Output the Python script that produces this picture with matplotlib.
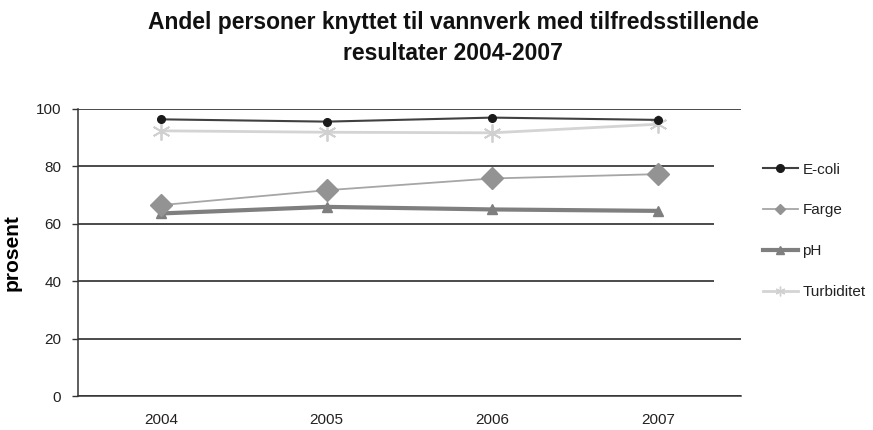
import matplotlib
matplotlib.use("Agg")
import matplotlib.pyplot as plt
from matplotlib.lines import Line2D
from matplotlib.patches import Rectangle

plt.rcParams['font.family'] = ['Liberation Sans', 'DejaVu Sans']

years = ["2004", "2005", "2006", "2007"]
ecoli = [96.4, 95.6, 97.0, 96.2]
farge = [66.5, 71.7, 75.8, 77.3]
ph = [63.6, 65.9, 65.0, 64.5]
turbiditet = [92.4, 91.9, 91.7, 94.7]
yticks = [0, 20, 40, 60, 80, 100]

W, H = 873, 430
fig = plt.figure(figsize=(W / 100, H / 100), dpi=100)
ax = fig.add_axes([78 / W, 1 - 396 / H, (741 - 78) / W, (396 - 109) / H])

x = list(range(len(years)))
ast = (6, 2, 0)

ax.plot(x, turbiditet, color='#d4d4d4', lw=2.0, marker=ast, ms=13, mew=1.3,
        mec='#d0d0d0', zorder=3)
ax.plot(x, ph, color='#7f7f7f', lw=3.0, marker='^', ms=7, mfc='#7f7f7f',
        mec='#7f7f7f', zorder=4)
ax.plot(x, farge, color='#a6a6a6', lw=1.3, marker='D', ms=11, mfc='#939393',
        mec='#939393', zorder=5)
ax.plot(x, ecoli, color='#404040', lw=1.5, marker='o', ms=5.5, mfc='#1a1a1a',
        mec='#1a1a1a', zorder=6)

ax.set_xlim(-0.5, 3.5)
ax.set_ylim(0, 100)
ax.set_yticks(yticks)
ax.set_yticklabels([str(v) for v in yticks])
ax.set_xticks(x)
ax.set_xticklabels(years)
ax.yaxis.grid(True, color='#1a1a1a', lw=1.1)
ax.set_axisbelow(True)
for s in ['top', 'right']:
    ax.spines[s].set_visible(False)
ax.spines['left'].set_color('#333333')
ax.spines['bottom'].set_color('#333333')
ax.spines['left'].set_linewidth(1.1)
ax.spines['bottom'].set_linewidth(1.1)
ax.tick_params(axis='y', length=4, width=1.0, color='#333333', pad=8,
               labelsize=11, labelcolor='#222222')
ax.tick_params(axis='x', length=0, pad=12, labelsize=11, labelcolor='#222222')

ax.set_ylabel('prosent', fontsize=15, fontweight='bold')
ax.yaxis.set_label_coords(-0.085, 0.5)

fig.text(453 / W, 1 - 23 / H, 'Andel personer knyttet til vannverk med tilfredsstillende',
         ha='center', va='center', fontsize=16.5, fontweight='bold', color='#111111')
fig.text(453 / W, 1 - 54 / H, 'resultater 2004-2007',
         ha='center', va='center', fontsize=16.5, fontweight='bold', color='#111111')

# white legend area covering gridlines
fig.patches.append(Rectangle((714 / W, 1 - 310 / H), (W - 714) / W, 160 / H,
                             transform=fig.transFigure, facecolor='white',
                             edgecolor='none', zorder=2))

handles = [
    Line2D([], [], color='#404040', lw=1.5, marker='o', ms=5.5, mfc='#1a1a1a', mec='#1a1a1a'),
    Line2D([], [], color='#a6a6a6', lw=1.3, marker='D', ms=5.5, mfc='#939393', mec='#939393'),
    Line2D([], [], color='#7f7f7f', lw=3.0, marker='^', ms=6, mfc='#7f7f7f', mec='#7f7f7f'),
    Line2D([], [], color='#d4d4d4', lw=2.0, marker=ast, ms=7, mew=1, mec='#d0d0d0'),
]
labels = ['E-coli', 'Farge', 'pH', 'Turbiditet']
leg = fig.legend(handles, labels, loc='upper left',
                 bbox_to_anchor=(755 / W, 1 - 155 / H), frameon=False,
                 fontsize=11, borderpad=0, handlelength=2.3, handletextpad=0.3,
                 labelspacing=1.75)
leg.set_zorder(3)
for t in leg.get_texts():
    t.set_color('#222222')

fig.savefig('out.png', dpi=100, facecolor='white')
